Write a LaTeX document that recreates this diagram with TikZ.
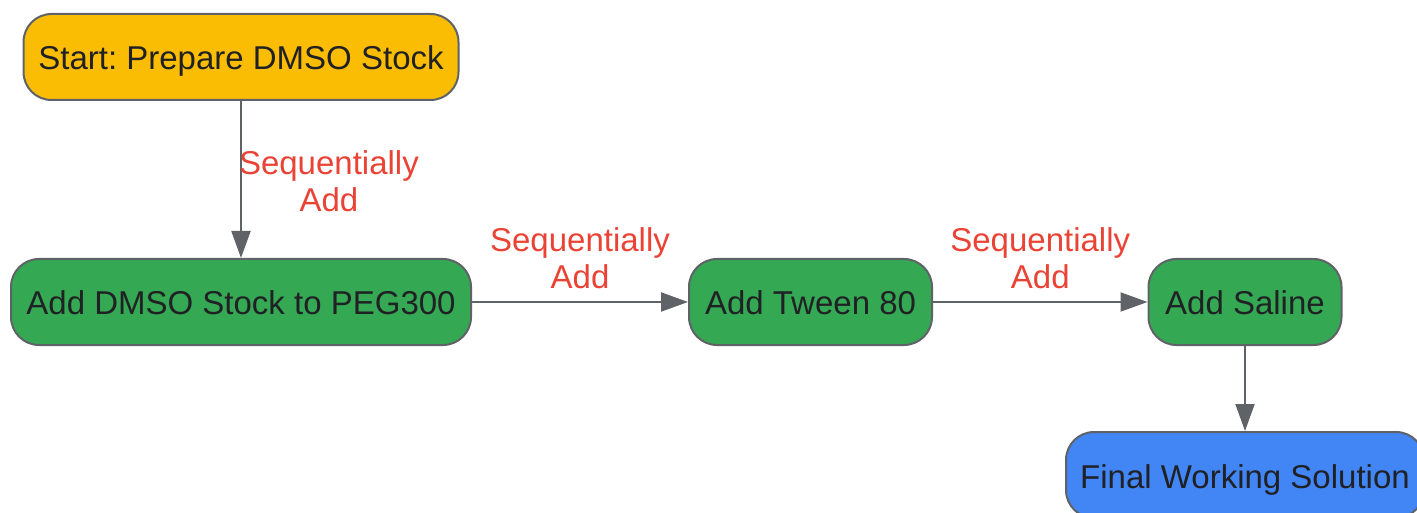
\documentclass[tikz,border=0pt]{standalone}
\usepackage{fontspec}
\setmainfont{Liberation Sans}
\usetikzlibrary{arrows.meta}
\definecolor{boxline}{HTML}{5F6368}
\definecolor{ink}{HTML}{202124}
\definecolor{gyellow}{HTML}{FBBC04}
\definecolor{ggreen}{HTML}{34A853}
\definecolor{gblue}{HTML}{4285F4}
\definecolor{gred}{HTML}{EA4335}
\frenchspacing
\begin{document}
\begin{tikzpicture}[x=1pt,y=-1pt]
      \useasboundingbox (0,0) rectangle (1417,513);

      \begin{scope}[every node/.style={draw=boxline,line width=2pt,rounded corners=28pt,
          minimum height=86pt,inner sep=0pt,text height=26pt,text depth=0pt,
          text=ink,font=\fontsize{33}{37}\selectfont}]
        \node[fill=gyellow,minimum width=435pt] (start)  at (241,57)    {Start: Prepare DMSO Stock};
        \node[fill=ggreen,minimum width=460pt]  (peg)    at (241,302)   {Add DMSO Stock to PEG300};
        \node[fill=ggreen,minimum width=243pt]  (tween)  at (810.5,302) {Add Tween 80};
        \node[fill=ggreen,minimum width=193pt]  (saline) at (1245,302)  {Add Saline};
        \node[fill=gblue,minimum width=358pt]   (final)  at (1245,475)  {Final Working Solution};
      \end{scope}

      \begin{scope}[every node/.style={text=gred,align=center,inner sep=0pt,
          font=\fontsize{33}{37}\selectfont}]

        \begin{scope}[every edge/.style={draw=boxline,line width=2pt,
            -{Triangle[length=27pt,width=19pt]}}]
          \path (start)  edge node[right=-3pt,yshift=-2pt] {Sequentially\\Add} (peg);
          \path (peg)    edge node[above=12pt] {Sequentially\\Add} (tween);
          \path (tween)  edge node[above=12pt] {Sequentially\\Add} (saline);
          \path (saline) edge (final);
        \end{scope}
      \end{scope}

    \end{tikzpicture}
\end{document}
